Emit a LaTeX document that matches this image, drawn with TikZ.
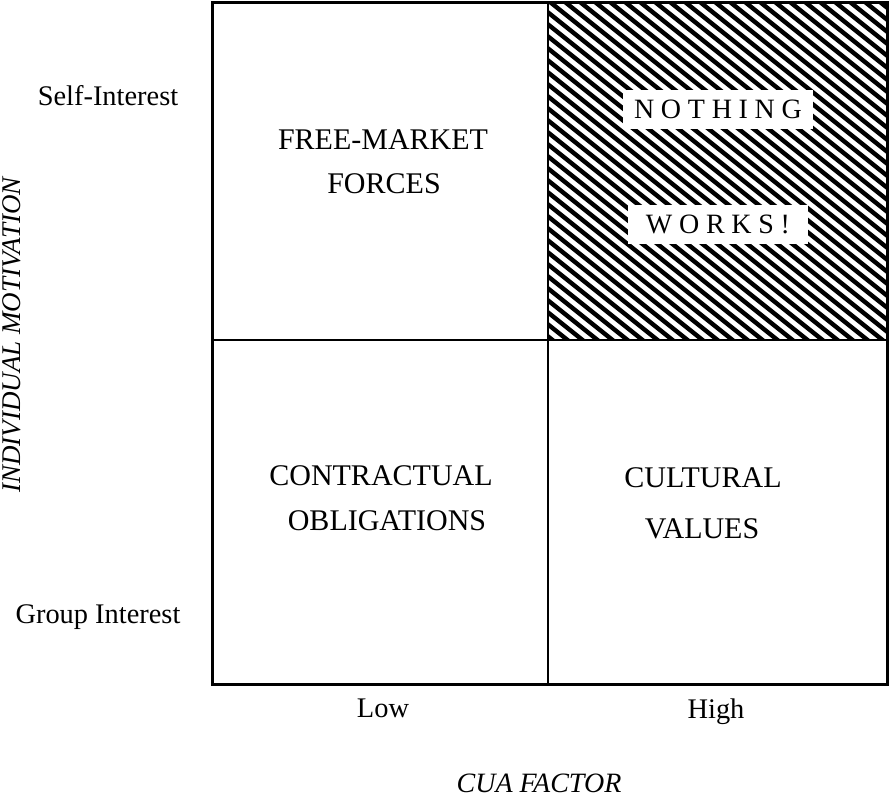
\documentclass[tikz,border=0pt]{standalone}
\usepackage{fontspec}
\setmainfont{Liberation Serif}
\newfontfamily\trackedfont[LetterSpace=24]{Liberation Serif}

\tikzset{
	quadlabel/.style={anchor=base, inner sep=0pt, font=\fontsize{15}{18}\selectfont},
	sidelabel/.style={anchor=base, inner sep=0pt, font=\fontsize{14.2}{17}\selectfont},
	axistitle/.style={inner sep=0pt, font=\fontsize{14}{17}\selectfont\itshape},
	gridline/.style={line width=1.1pt},
	hatchline/.style={line width=2.2pt},
	cutout/.style={fill=white, inner sep=0pt, minimum width=95pt, minimum height=19.5pt,
		font=\fontsize{14}{16}\trackedfont}
}

\begin{document}
\begin{tikzpicture}[x=0.5pt, y=-0.5pt]
	\useasboundingbox (0,0) rectangle (890,799);

	% hatching of the upper right cell
	\begin{scope}
		\clip (548,2) rectangle (887,340);
		\foreach \k in {0,...,56}
			\draw[hatchline] (100+15*\k,-10) -- ++(450,360);
	\end{scope}

	% the four cells
	\draw[gridline, line width=1.5pt] (212,2) rectangle (887,684);
	\draw[gridline] (548,2) -- (548,684);
	\draw[gridline] (212,340) -- (887,340);

	\node[cutout] (nothing) at (718,109) {NOTHING};
	\node[cutout, minimum width=90pt] (works) at (718,224) {WORKS!};

	\node[quadlabel] (free) at (383,149) {FREE-MARKET};
	\node[quadlabel] (forces) at (384,193) {FORCES};
	\node[quadlabel] (contract) at (381,485) {CONTRACTUAL};
	\node[quadlabel] (oblig) at (387,530) {OBLIGATIONS};
	\node[quadlabel] (cultural) at (703,487) {CULTURAL};
	\node[quadlabel] (values) at (702,538) {VALUES};

	% axes
	\node[sidelabel] (selfint) at (108,105) {Self-Interest};
	\node[sidelabel] (groupint) at (98,623) {Group Interest};
	\node[sidelabel] (low) at (383,717) {Low};
	\node[sidelabel] (high) at (716,718) {High};
	\node[axistitle, anchor=base] (cua) at (539,792) {CUA FACTOR};
	\node[axistitle, font=\fontsize{13.5}{16}\selectfont\itshape, rotate=90]
		(motive) at (12,335) {INDIVIDUAL MOTIVATION};
\end{tikzpicture}
\end{document}
